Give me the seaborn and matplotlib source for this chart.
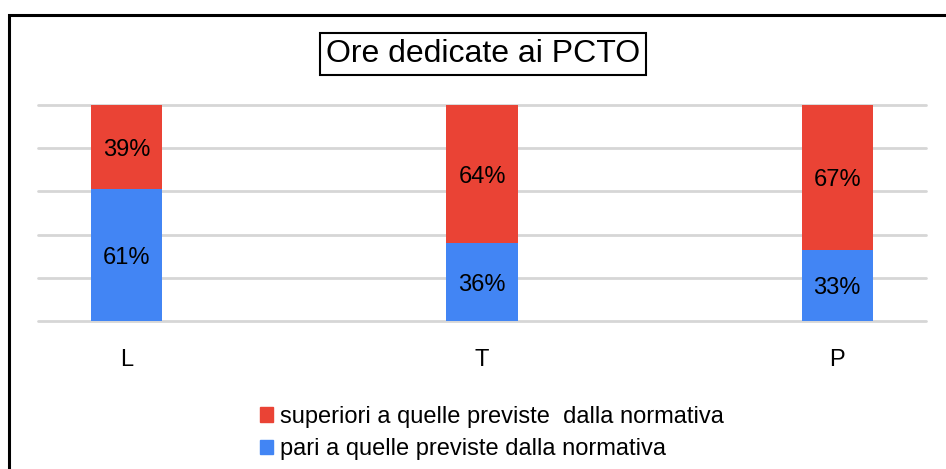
import matplotlib
matplotlib.use("Agg")
import matplotlib.pyplot as plt
import matplotlib.patches as mpatches
import pandas as pd
import seaborn as sns

sns.set_theme(style="white")
plt.rcParams['font.family'] = ['Liberation Sans', 'DejaVu Sans']
plt.rcParams['text.color'] = 'black'
plt.rcParams['xtick.color'] = 'black'

## Data
categories = ["L", "T", "P"]
pari = [61, 36, 33]
superiori = [39, 64, 67]
series_labels = ["superiori a quelle previste  dalla normativa",
                 "pari a quelle previste dalla normativa"]
title = "Ore dedicate ai PCTO"

col_red = "#ea4335"
col_blue = "#4285f4"

df = pd.DataFrame({"cat": categories, "pari": pari, "sup": superiori})
df["tot"] = df["pari"] + df["sup"]

fig = plt.figure(figsize=(9.46, 4.69), dpi=100)
ax = fig.add_axes([38 / 946, 1 - 321 / 469, 888 / 946, 216 / 469])

## Stacked bars: total in red, blue drawn over it
sns.barplot(data=df, x="cat", y="tot", color=col_red, width=0.2,
            saturation=1, linewidth=0, ax=ax, zorder=2)
sns.barplot(data=df, x="cat", y="pari", color=col_blue, width=0.2,
            saturation=1, linewidth=0, ax=ax, zorder=3)

for i, row in df.iterrows():
    ax.text(i, row["pari"] / 2, f"{row['pari']}%", ha="center",
            va="center_baseline", fontsize=17, color="black", zorder=4)
    ax.text(i, row["pari"] + row["sup"] / 2, f"{row['sup']}%", ha="center",
            va="center_baseline", fontsize=17, color="black", zorder=4)

## Axes style
ax.set_xlim(-0.25, 2.25)
ax.set_ylim(0, 100)
ax.set_yticks(range(0, 101, 20))
ax.yaxis.grid(True, color="#d6d6d6", linewidth=2, zorder=0)
for gl in ax.get_ygridlines():
    gl.set_clip_on(False)
ax.set_axisbelow(True)
ax.tick_params(axis="y", left=False, labelleft=False)
ax.tick_params(axis="x", bottom=False, labelsize=17, pad=14, labelcolor="black")
ax.set_xlabel("")
ax.set_ylabel("")
for s in ax.spines.values():
    s.set_visible(False)

## Title in a box
fig.text(483 / 946, 1 - 54 / 469, title, ha="center", va="center",
         fontsize=23, color="black",
         bbox=dict(boxstyle="square,pad=0.2", fc="white", ec="black", lw=1.5))

## Legend
handles = [mpatches.Patch(color=col_red, label=series_labels[0]),
           mpatches.Patch(color=col_blue, label=series_labels[1])]
fig.legend(handles=handles, loc="upper left",
           bbox_to_anchor=(248 / 946, 1 - 394 / 469), frameon=False,
           fontsize=17, handlelength=0.55, handleheight=0.55,
           handletextpad=0.3, labelspacing=0.45, borderpad=0,
           labelcolor="black")

## Outer border
fig.patches.append(mpatches.Rectangle((9 / 946, -0.1), 1.1, 1 - 15 / 469 + 0.1,
                                      transform=fig.transFigure, fill=False,
                                      ec="black", lw=2.2))

fig.savefig("out.png", dpi=100)
